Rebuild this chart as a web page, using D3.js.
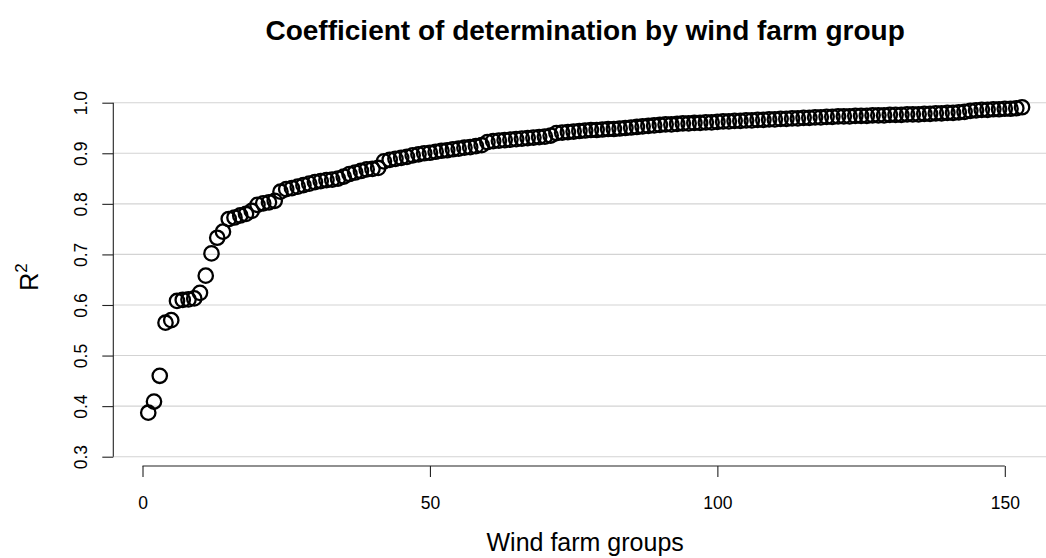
<!DOCTYPE html>
<html>
<head>
<meta charset="utf-8">
<script src="https://cdn.jsdelivr.net/npm/d3@7"></script>
<style>
  html, body { margin: 0; padding: 0; background: #fff; }
  svg { display: block; }
  text { font-family: "Liberation Sans", Arial, Helvetica, sans-serif; fill: #000; }
</style>
</head>
<body>
<svg id="chart" width="1046" height="558"></svg>
<script>
// ---- data ----
const title = "Coefficient of determination by wind farm group";
const xLabel = "Wind farm groups";
const xTicks = [0, 50, 100, 150];
const yTicks = [0.3, 0.4, 0.5, 0.6, 0.7, 0.8, 0.9, 1.0];
const rSquared = [
  0.387, 0.409, 0.460, 0.565, 0.570, 0.608, 0.610, 0.611, 0.613, 0.624,
  0.658, 0.702, 0.733, 0.745, 0.770, 0.773, 0.777, 0.780, 0.786, 0.798,
  0.801, 0.803, 0.806, 0.824, 0.829, 0.831, 0.834, 0.837, 0.840, 0.843,
  0.845, 0.847, 0.848, 0.850, 0.854, 0.859, 0.862, 0.865, 0.868, 0.869,
  0.871, 0.884, 0.887, 0.889, 0.891, 0.893, 0.896, 0.898, 0.900, 0.901,
  0.903, 0.905, 0.906, 0.908, 0.909, 0.911, 0.912, 0.914, 0.916, 0.922,
  0.924, 0.925, 0.926, 0.927, 0.928, 0.929, 0.930, 0.931, 0.932, 0.933,
  0.935, 0.940, 0.941, 0.942, 0.943, 0.944, 0.945, 0.946, 0.946, 0.947,
  0.948, 0.948, 0.949, 0.950, 0.951, 0.952, 0.953, 0.954, 0.955, 0.956,
  0.957, 0.957, 0.958, 0.959, 0.959, 0.960, 0.960, 0.961, 0.961, 0.962,
  0.963, 0.963, 0.964, 0.964, 0.965, 0.965, 0.966, 0.966, 0.967, 0.967,
  0.968, 0.968, 0.969, 0.969, 0.970, 0.970, 0.971, 0.971, 0.972, 0.972,
  0.973, 0.973, 0.973, 0.974, 0.974, 0.974, 0.975, 0.975, 0.975, 0.976,
  0.976, 0.976, 0.977, 0.977, 0.977, 0.978, 0.978, 0.979, 0.979, 0.980,
  0.980, 0.981, 0.982, 0.984, 0.985, 0.986, 0.986, 0.987, 0.987, 0.988,
  0.988, 0.989, 0.991
];
const groups = rSquared.map((d, i) => i + 1);

// ---- layout ----
const svg = d3.select("#chart");
const plotLeft = 113.3, plotRight = 1057, plotBottom = 466;
const n = rSquared.length;
const pad = 0.04 * (n - 1);

const x = d3.scaleLinear().domain([1 - pad, n + pad]).range([plotLeft, plotRight]);
const y = d3.scaleLinear().domain([0.3, 1.0]).range([456.7, 102.7]);

// gridlines
svg.append("g").selectAll("line").data(yTicks).join("line")
  .attr("x1", plotLeft).attr("x2", 1046)
  .attr("y1", d => y(d)).attr("y2", d => y(d))
  .attr("stroke", "#d3d3d3").attr("stroke-width", 1.1);

// y axis
const yAxis = d3.axisLeft(y).tickValues(yTicks).tickSize(11)
  .tickFormat(d3.format(".1f"));
const gy = svg.append("g").attr("transform", `translate(${plotLeft},0)`).call(yAxis);
gy.select(".domain").attr("d", `M-0,${y(0.3)}H0V${y(1.0)}H-0`)
  .attr("stroke", "#222").attr("stroke-width", 1.1);
gy.selectAll(".tick line").attr("stroke", "#222").attr("stroke-width", 1.1);
gy.selectAll(".tick text")
  .attr("x", null).attr("dy", null)
  .attr("text-anchor", "middle")
  .attr("transform", "translate(-26,0) rotate(-90)")
  .attr("font-size", 17.5).attr("font-family", "Liberation Sans, Arial, sans-serif");

// x axis
const xAxis = d3.axisBottom(x).tickValues(xTicks).tickSize(11).tickFormat(d3.format("d"));
const gx = svg.append("g").attr("transform", `translate(0,${plotBottom})`).call(xAxis);
gx.select(".domain").attr("d", `M${x(0)},0H${x(150)}`)
  .attr("stroke", "#222").attr("stroke-width", 1.1);
gx.selectAll(".tick line").attr("stroke", "#222").attr("stroke-width", 1.1);
gx.selectAll(".tick text")
  .attr("y", 43).attr("dy", null)
  .attr("font-size", 17.5).attr("font-family", "Liberation Sans, Arial, sans-serif");

// points
svg.append("g").selectAll("circle").data(rSquared).join("circle")
  .attr("cx", (d, i) => x(groups[i]))
  .attr("cy", d => y(d))
  .attr("r", 7.2)
  .attr("fill", "none")
  .attr("stroke", "#000")
  .attr("stroke-width", 2.3);

// title
svg.append("text")
  .attr("x", (plotLeft + plotRight) / 2).attr("y", 40)
  .attr("text-anchor", "middle")
  .attr("font-size", 28).attr("font-weight", "bold")
  .text(title);

// x label
svg.append("text")
  .attr("x", (plotLeft + plotRight) / 2).attr("y", 551)
  .attr("text-anchor", "middle")
  .attr("font-size", 25)
  .text(xLabel);

// y label R^2
const yl = svg.append("text")
  .attr("transform", "translate(38,277) rotate(-90)")
  .attr("text-anchor", "middle")
  .attr("font-size", 25);
yl.append("tspan").text("R");
yl.append("tspan").attr("font-size", 17).attr("dy", -11).text("2");
</script>
</body>
</html>
